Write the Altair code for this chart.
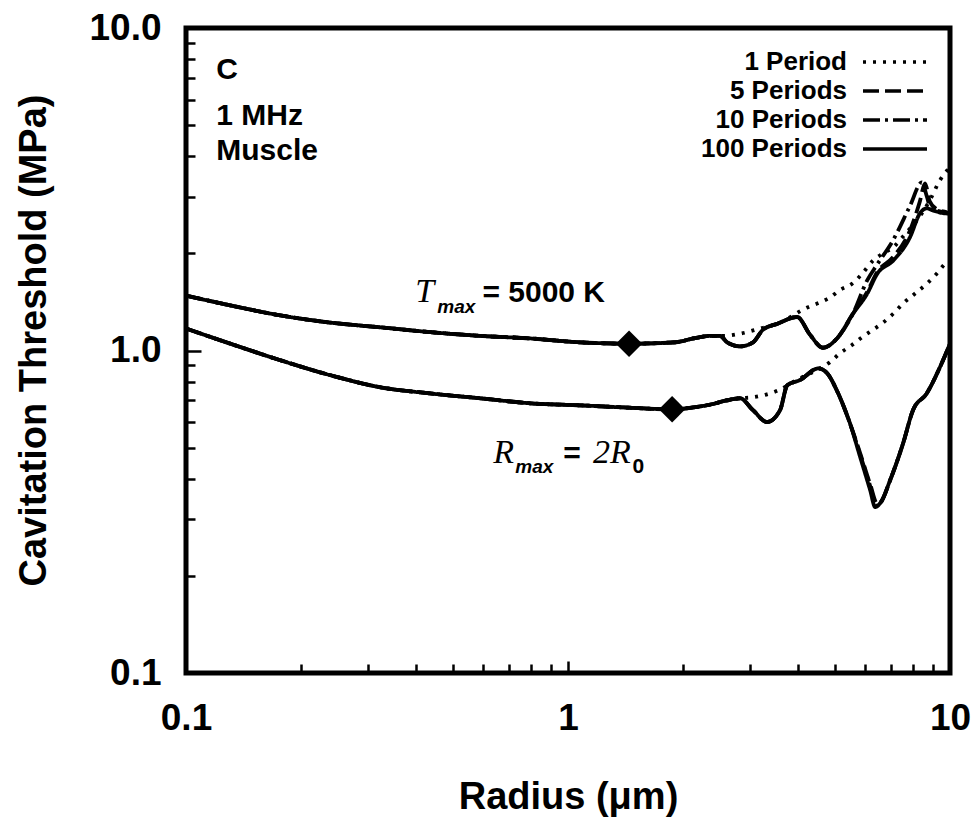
import altair as alt
import pandas as pd

SANS = "Liberation Sans"
SERIF = "Liberation Serif"

periods = ["1 Period", "5 Periods", "10 Periods", "100 Periods"]
dashes = [[3, 7], [16, 6], [17, 5, 3, 5], [1, 0]]

# ---- upper curve (T_max = 5000 K): shared part ----
upper_common_x = [0.1, 0.1306, 0.1766, 0.239, 0.323, 0.436, 0.589, 0.796, 1.076, 1.445, 1.9, 2.13, 2.36]
upper_common_y = [1.48, 1.38, 1.285, 1.22, 1.18, 1.14, 1.11, 1.09, 1.06, 1.05, 1.06, 1.09, 1.11]

up1_x = [2.55, 2.85, 3.18, 3.53, 4.23, 4.57, 4.85, 5.15, 5.54, 5.89, 6.29, 6.68, 7.10, 7.66, 8.19, 8.85, 9.41, 9.82, 10.0]
up1_y = [1.11, 1.13, 1.17, 1.21, 1.36, 1.41, 1.46, 1.54, 1.61, 1.73, 1.90, 2.00, 2.09, 2.31, 2.53, 2.92, 3.37, 3.61, 3.67]

up100_x = [2.5, 2.61, 2.82, 3.05, 3.24, 3.53, 3.98, 4.3, 4.65, 5.06, 5.57, 6.07, 6.45, 7.10, 7.85, 8.34, 8.69, 9.01, 9.82, 10.0]
up100_y = [1.11, 1.06, 1.03, 1.06, 1.16, 1.21, 1.27, 1.12, 1.02, 1.09, 1.30, 1.50, 1.73, 1.90, 2.24, 2.66, 2.76, 2.72, 2.66, 2.66]

up5_x = [2.5, 2.61, 2.82, 3.05, 3.24, 3.53, 3.98, 4.3, 4.65, 5.06, 5.57, 6.07, 6.45, 7.10, 7.85, 8.34, 8.6, 8.85, 9.2, 9.82, 10.0]
up5_y = [1.11, 1.06, 1.03, 1.06, 1.16, 1.21, 1.27, 1.12, 1.02, 1.09, 1.30, 1.52, 1.75, 1.95, 2.35, 2.90, 3.30, 2.90, 2.75, 2.68, 2.66]

up10_x = [2.5, 2.61, 2.82, 3.05, 3.24, 3.53, 3.98, 4.3, 4.65, 5.06, 5.57, 6.07, 6.45, 7.10, 7.85, 8.44, 8.7, 8.9, 9.4, 10.0]
up10_y = [1.11, 1.06, 1.03, 1.06, 1.16, 1.21, 1.27, 1.12, 1.02, 1.09, 1.30, 1.65, 1.85, 2.20, 2.80, 3.32, 3.00, 2.75, 2.70, 2.66]

# ---- lower curve (R_max = 2 R0): shared part ----
lower_common_x = [0.1, 0.1306, 0.1766, 0.239, 0.323, 0.436, 0.589, 0.796, 1.076, 1.4, 1.873, 2.13, 2.36, 2.6, 2.82]
lower_common_y = [1.17, 1.05, 0.933, 0.838, 0.769, 0.736, 0.711, 0.686, 0.676, 0.666, 0.657, 0.666, 0.68, 0.70, 0.711]

lo1_x = [3.05, 3.53, 4.05, 4.57, 4.85, 5.15, 5.54, 5.89, 6.29, 6.68, 7.10, 7.54, 8.09, 8.69, 9.23, 9.82, 10.0]
lo1_y = [0.716, 0.75, 0.82, 0.88, 0.92, 0.98, 1.04, 1.10, 1.16, 1.22, 1.30, 1.40, 1.50, 1.61, 1.73, 1.88, 1.90]

lo100_x = [3.05, 3.32, 3.59, 3.75, 4.05, 4.52, 4.77, 5.06, 5.47, 5.82, 6.18, 6.37, 6.56, 6.97, 7.54, 8.00, 8.69, 9.41, 10.0]
lo100_y = [0.653, 0.600, 0.653, 0.78, 0.81, 0.88, 0.85, 0.75, 0.595, 0.467, 0.369, 0.327, 0.336, 0.396, 0.516, 0.653, 0.736, 0.887, 1.05]

lo5_x = [3.05, 3.32, 3.59, 3.75, 4.05, 4.52, 4.77, 5.06, 5.47, 5.82, 6.18, 6.45, 6.6, 6.97, 7.54, 8.00, 8.69, 9.41, 10.0]
lo5_y = [0.653, 0.600, 0.653, 0.78, 0.81, 0.88, 0.85, 0.75, 0.595, 0.48, 0.385, 0.335, 0.34, 0.396, 0.516, 0.653, 0.736, 0.887, 1.05]

lo10_x = [3.05, 3.32, 3.59, 3.75, 4.05, 4.52, 4.77, 5.06, 5.47, 5.82, 6.18, 6.42, 6.6, 6.97, 7.54, 8.00, 8.69, 9.41, 10.0]
lo10_y = [0.653, 0.600, 0.653, 0.78, 0.81, 0.88, 0.85, 0.75, 0.595, 0.475, 0.38, 0.33, 0.338, 0.396, 0.516, 0.653, 0.736, 0.887, 1.05]

# diamonds marking the resonance-limited points
marker_x = [1.445, 1.873]
marker_y = [1.05, 0.657]

minor_ticks = [0.2, 0.3, 0.4, 0.5, 0.6, 0.7, 0.8, 0.9, 2, 3, 4, 5, 6, 7, 8, 9]
major_ticks = [0.1, 1, 10]

tails = {
    ("upper", "1 Period"): (up1_x, up1_y),
    ("upper", "5 Periods"): (up5_x, up5_y),
    ("upper", "10 Periods"): (up10_x, up10_y),
    ("upper", "100 Periods"): (up100_x, up100_y),
    ("lower", "1 Period"): (lo1_x, lo1_y),
    ("lower", "5 Periods"): (lo5_x, lo5_y),
    ("lower", "10 Periods"): (lo10_x, lo10_y),
    ("lower", "100 Periods"): (lo100_x, lo100_y),
}
commons = {"upper": (upper_common_x, upper_common_y), "lower": (lower_common_x, lower_common_y)}

rows = []
for (grp, per), (tx, ty) in tails.items():
    cx, cy = commons[grp]
    for xv, yv in zip(cx + tx, cy + ty):
        rows.append({"x": xv, "y": yv, "period": per, "curve": grp + "-" + per})
df = pd.DataFrame(rows)
markers = pd.DataFrame({"x": marker_x, "y": marker_y})

xscale = alt.Scale(type="log", domain=[0.1, 10], nice=False)
yscale = alt.Scale(type="log", domain=[0.1, 10], nice=False)

x_major = alt.Axis(values=major_ticks, format="~g", orient="bottom", offset=-12, tickSize=12,
                   tickWidth=2.5, tickColor="black", domain=False, grid=False,
                   labelFont=SANS, labelFontSize=37, labelFontWeight="bold", labelColor="black",
                   labelPadding=27, labelFlush=False, labelOverlap=False,
                   title="Radius (\u03bcm)", titleFont=SANS, titleFontSize=38, titleFontWeight="bold",
                   titleColor="black", titleX=382, titleY=147, titleBaseline="alphabetic", titleAlign="center")
y_major = alt.Axis(values=major_ticks, format=".1f", orient="left", offset=-15, tickSize=15,
                   tickWidth=2.5, tickColor="black", domain=False, grid=False,
                   labelFont=SANS, labelFontSize=37, labelFontWeight="bold", labelColor="black",
                   labelPadding=25, labelFlush=False, labelOverlap=False,
                   title="Cavitation Threshold (MPa)", titleFont=SANS, titleFontSize=38,
                   titleFontWeight="bold", titleColor="black", titleAngle=270,
                   titleX=-156, titleY=312, titleBaseline="alphabetic", titleAlign="center")
x_minor = alt.Axis(values=minor_ticks, orient="bottom", offset=-9, tickSize=9, tickWidth=2.5,
                   tickColor="black", domain=False, grid=False, labels=False, title=None)
y_minor = alt.Axis(values=minor_ticks, orient="left", offset=-9, tickSize=9, tickWidth=2.5,
                   tickColor="black", domain=False, grid=False, labels=False, title=None)

# long horizontal stroke drawn from a small symbol size keeps the legend rows compact
legend = alt.Legend(title=None, orient="none", legendX=696, legendY=21,
                    symbolType="M-3.2,0H3.2", symbolSize=400, symbolStrokeWidth=3.5,
                    symbolStrokeColor="black", symbolOpacity=1,
                    labelAlign="right", labelOffset={"expr": "-61"}, labelFont=SANS, labelFontSize=26,
                    labelFontWeight="bold", labelColor="black", labelLimit=400,
                    rowPadding=3, padding=0)

lines = alt.Chart(df).mark_line(color="black", strokeWidth=3.8, strokeCap="butt",
                                interpolate="monotone").encode(
    x=alt.X("x:Q", scale=xscale, axis=x_major),
    y=alt.Y("y:Q", scale=yscale, axis=y_major),
    strokeDash=alt.StrokeDash("period:N", scale=alt.Scale(domain=periods, range=dashes), legend=legend),
    detail="curve:N",
)

points = alt.Chart(markers).mark_point(shape="diamond", filled=True, size=700, color="black", opacity=1).encode(
    x=alt.X("x:Q", scale=xscale, axis=x_minor),
    y=alt.Y("y:Q", scale=yscale, axis=y_minor),
)


def text_layer(xs, ys, texts, font, size, weight="bold", style="normal"):
    d = pd.DataFrame({"x": xs, "y": ys, "t": texts})
    return alt.Chart(d).mark_text(font=font, fontSize=size, fontWeight=weight, fontStyle=style,
                                  align="left", baseline="alphabetic", color="black").encode(
        x=alt.X("x:Q", scale=xscale, axis=None),
        y=alt.Y("y:Q", scale=yscale, axis=None),
        text="t:N",
    )


panel_x = [0.120, 0.120, 0.120]
panel_y = [6.97, 4.99, 3.89]
panel_text = ["C", "1 MHz", "Muscle"]

eq_x = [0.597, 0.972]
eq_y = [1.411, 0.448]
eq_text = ["= 5000 K", "="]

sym_x = [0.398, 0.637, 1.163]
sym_y = [1.411, 0.448, 0.448]
sym_text = ["T", "R", "2R"]

sub_x = [0.455, 0.728]
sub_y = [1.304, 0.417]
sub_text = ["max", "max"]

zero_x = [1.475]
zero_y = [0.417]
zero_text = ["0"]

chart = alt.layer(
    lines,
    points,
    text_layer(panel_x, panel_y, panel_text, SANS, 30),
    text_layer(eq_x, eq_y, eq_text, SANS, 30),
    text_layer(sym_x, sym_y, sym_text, SERIF, 34, weight="normal", style="italic"),
    text_layer(sub_x, sub_y, sub_text, SANS, 19, style="italic"),
    text_layer(zero_x, zero_y, zero_text, SANS, 21),
).resolve_axis(x="independent", y="independent").properties(
    width=764, height=645,
    autosize=alt.AutoSizeParams(type="none"),
    padding={"left": 186, "top": 28, "right": 30, "bottom": 150},
    background="white",
).configure_view(stroke="black", strokeWidth=5).configure_axis(grid=False)

chart.save("out.html", embed_options={"renderer": "svg", "actions": False})
